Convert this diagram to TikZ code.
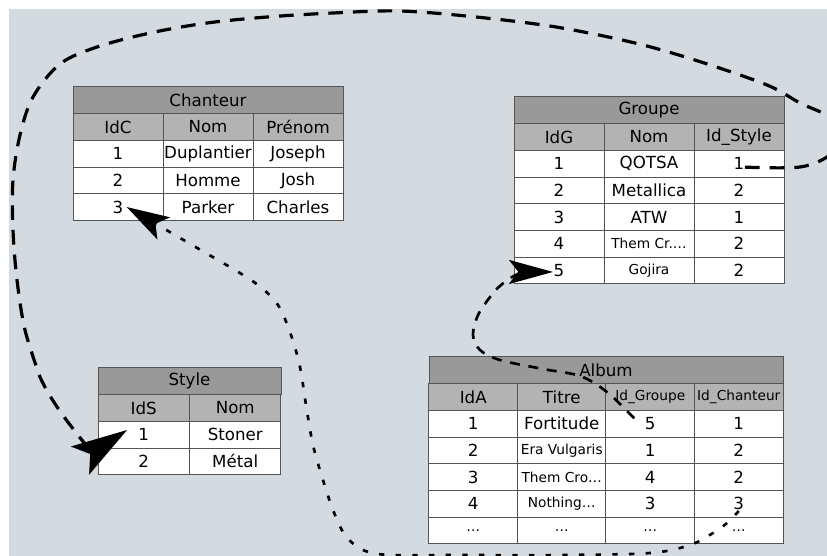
\documentclass[tikz,border=0pt]{standalone}
\usepackage{fontspec}
\setmainfont{DejaVu Sans}
\usetikzlibrary{arrows.meta}

\definecolor{backdrop}{HTML}{D3DBE1}
\definecolor{titlegray}{HTML}{999999}
\definecolor{headgray}{HTML}{B3B3B3}
\definecolor{rulegray}{HTML}{555555}

\newcommand\smallcell{\fontsize{10.3}{12}\selectfont}

\tikzset{
  cell/.style={draw=rulegray, line width=0.75pt, fill=white, inner sep=0pt,
    minimum height=20pt, font=\fontsize{12.5}{15}\selectfont},
  title cell/.style={cell, fill=titlegray},
  head cell/.style={cell, fill=headgray},
  loop link/.style={line width=2.4pt, dash pattern=on 11pt off 7.5pt},
  group link/.style={line width=2pt, dash pattern=on 7.5pt off 6.5pt},
  singer link/.style={line width=2pt, dash pattern=on 4pt off 8.5pt}
}

\begin{document}
\begin{tikzpicture}[x=0.75pt, y=-0.75pt]
\useasboundingbox (0,0) rectangle (827,556);
\clip (0,0) rectangle (827,556);
\fill [white] (0,0) rectangle (827,556);
\fill [backdrop] (9,9) rectangle (827,556);

% table Chanteur
\node [title cell, minimum width=202.5pt] (chanteur) at (208,100.3) {Chanteur};
\foreach \l [count=\i] in {IdC, Nom, Prénom}
  \node [head cell, minimum width=67.5pt] (chanteur-0-\i) at ({28+90*\i},127) {\l};
\foreach \a/\b/\c [count=\r] in {1/Duplantier/Joseph, 2/Homme/Josh, 3/Parker/Charles}
  \foreach \l [count=\i] in {\a,\b,\c}
    \node [cell, minimum width=67.5pt] (chanteur-\r-\i) at ({28+90*\i},{127+26.67*\r}) {\l};

% table Groupe
\node [title cell, minimum width=202.5pt] (groupe) at (649,110.3) {Groupe};
\foreach \l [count=\i] in {IdG, Nom, Id\_Style}
  \node [head cell, minimum width=67.5pt] (groupe-0-\i) at ({469+90*\i},137) {\l};
\foreach \a/\b/\c [count=\r] in {1/QOTSA/1, 2/Metallica/2, 3/ATW/1,
    4/\smallcell Them Cr.…/2, 5/\smallcell Gojira/2}
  \foreach \l [count=\i] in {\a,\b,\c}
    \node [cell, minimum width=67.5pt] (groupe-\r-\i) at ({469+90*\i},{137+26.67*\r}) {\l};

% table Style
\node [title cell, minimum width=137.25pt] (style) at (189.5,381.3) {Style};
\foreach \l [count=\i] in {IdS, Nom}
  \node [head cell, minimum width=68.6pt] (style-0-\i) at ({52.25+91.5*\i},408) {\l};
\foreach \a/\b [count=\r] in {1/Stoner, 2/Métal}
  \foreach \l [count=\i] in {\a,\b}
    \node [cell, minimum width=68.6pt] (style-\r-\i) at ({52.25+91.5*\i},{408+26.67*\r}) {\l};

% table Album
\node [title cell, minimum width=265.5pt] (album) at (606,370.3) {Album};
\foreach \l [count=\i] in {IdA, Titre, \smallcell Id\_Groupe, \smallcell Id\_Chanteur}
  \node [head cell, minimum width=66.4pt] (album-0-\i) at ({384.75+88.5*\i},397) {\l};
\foreach \a/\b/\c/\d [count=\r] in {1/Fortitude/5/1, 2/\smallcell Era Vulgaris/1/2,
    3/\smallcell Them Cro…/4/2, 4/\smallcell Nothing…/3/3,
    \smallcell …/\smallcell …/\smallcell …/\smallcell …}
  \foreach \l [count=\i] in {\a,\b,\c,\d}
    \node [cell, minimum width=66.4pt] (album-\r-\i) at ({384.75+88.5*\i},{397+26.67*\r}) {\l};

% Groupe.Id_Style -> Style.IdS
\draw [loop link, -{Stealth[length=42pt, width=25pt, inset=9pt]}]
  plot [smooth, tension=0.55] coordinates {([xshift=4.5pt, yshift=-2.6pt]groupe-1-3.center)
    (800,167) (830,155) (845,135) (830,117) (800,103) (767,85) (698,61) (635,43)
    (556,27) (476,17) (400,11) (333,13) (267,17) (207,23) (150,33) (97,47) (60,64)
    (33,97) (20,135) (13,180) (13,230) (17,280) (25,330) (40,377)}
  to [out=-66, in=-147] ([xshift=-12.5pt, yshift=3.5pt]style-1-1.center);

% Album.Id_Groupe -> Groupe.IdG
\draw [group link, -{Stealth[length=33pt, width=18pt, inset=7pt]}]
  plot [smooth, tension=0.55] coordinates {([xshift=-12pt, yshift=4pt]album-1-3.center)
    (607,392) (580,376) (543,369) (500,360) (480,350) (473,335) (478,315) (490,297)}
  to [out=54, in=180] ([xshift=-4.5pt, yshift=-1.2pt]groupe-5-1.center);

% Album.Id_Chanteur -> Chanteur.IdC
\draw [singer link, -{Stealth[length=32pt, width=19pt, inset=7pt]}]
  plot [smooth, tension=0.55] coordinates {([yshift=-5.5pt]album-4-4.center)
    (727,523) (713,533) (690,545) (650,553) (560,555) (460,555) (390,555) (363,550)
    (345,535) (333,510) (323,480) (313,445) (306,405) (300,367) (291,335) (278,305)
    (258,285) (230,267)}
  to [out=150, in=-30] ([xshift=6.5pt]chanteur-3-1.center);
\end{tikzpicture}
\end{document}
